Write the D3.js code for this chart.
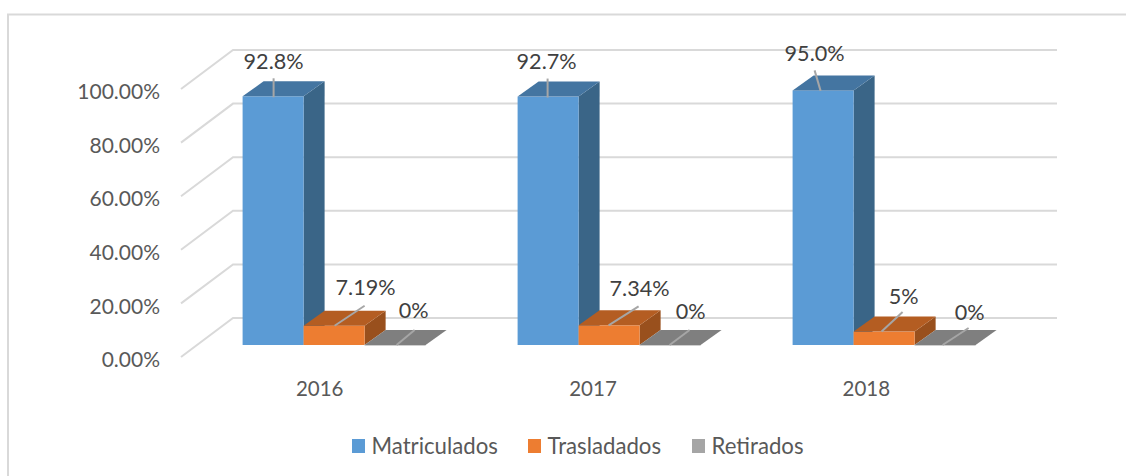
<!DOCTYPE html>
<html><head><meta charset="utf-8">
<script src="https://cdnjs.cloudflare.com/ajax/libs/d3/7.8.5/d3.min.js"></script>
<style>html,body{margin:0;padding:0;background:#fff}svg{display:block}text{font-family:Lato,"Open Sans",sans-serif}</style>
</head><body><svg id="c" width="1126" height="476"></svg>
<script>
const years = ["2016","2017","2018"];
const seriesNames = ["Matriculados","Trasladados","Retirados"];
const matriculados = [0.928,0.927,0.950];
const trasladados = [0.0719,0.0734,0.05];
const retirados = [0,0,0];
const labelsMatriculados = ["92.8%","92.7%","95.0%"];
const labelsTrasladados = ["7.19%","7.34%","5%"];
const labelsRetirados = ["0%","0%","0%"];
const yTicks = [0,0.2,0.4,0.6,0.8,1];
const values = [matriculados,trasladados,retirados];
const labels = [labelsMatriculados,labelsTrasladados,labelsRetirados];

// layout: label centre (lx,ly), leader start (sx,sy), leader end (ex,ey), relative to bar top centre
const leaderLayout = [
 [{lx:0.5,ly:-35,sx:0.5,sy:1,ex:0.5,ey:-18},{lx:-1.5,ly:-35,sx:-0.5,sy:1,ex:-0.5,ey:-18},{lx:-8.5,ly:-36.5,sx:-2.5,sy:0.5,ex:-8.5,ey:-20}],
 [{lx:31.5,ly:-38,sx:0.5,sy:0,ex:30.5,ey:-20},{lx:30.5,ly:-37,sx:-0.5,sy:0,ex:29.5,ey:-19},{lx:19.5,ly:-35,sx:-2.5,sy:0,ex:18.5,ey:-19.6}],
 [{lx:18.5,ly:-35,sx:1.5,sy:0,ex:19.5,ey:-15},{lx:20.5,ly:-34,sx:-0.5,sy:0,ex:19.5,ey:-15},{lx:24.5,ly:-33,sx:-2.5,sy:0,ex:23.5,ey:-17}]
];
const fronts = ["#5B9BD5","#ED7D31","#A5A5A5"];
const tops = ["#4475A1","#B45D22","#7F7F7F"];
const sides = ["#3A6587","#99501D","#7F7F7F"];
const legendX = [352,528,692];

const svg = d3.select("#c");
const ink="#595959", ink2="#404040", gridC="#D9D9D9";

// chart frame (open right and bottom)
svg.append("path").attr("d","M8 476V14.5H1126").attr("fill","none").attr("stroke",gridC).attr("stroke-width",2);

const yFront = d3.scaleLinear().domain([0,1]).range([357,89]);
const yBar = d3.scaleLinear().domain([0,1]).range([345,77]);
const x0 = d3.scaleBand().domain(years).range([196.6,1021.6]);
const x1 = d3.scaleBand().domain(seriesNames).range([46,229]);
const xLab = d3.scaleBand().domain(years).range([183,1003]);
const depth = {x:21,y:15}, wall={x:52,y:-39};

// gridlines on floor/wall
const grid = svg.append("g").attr("fill","none").attr("stroke",gridC).attr("stroke-width",2);
yTicks.forEach(t=>{
  const y=yFront(t);
  grid.append("path").attr("d",`M181 ${y}L${181+wall.x} ${y+wall.y}H1057`);
});

// y axis
const ax = svg.append("g").attr("transform","translate(181,3)")
  .call(d3.axisLeft(yFront).tickValues(yTicks).tickSize(0).tickPadding(21).tickFormat(d3.format(".2%")));
ax.select(".domain").remove();
ax.selectAll("text").attr("fill",ink).attr("font-size",21);

// bars
const bars = svg.append("g");
years.forEach((yr,i)=>{
  seriesNames.forEach((s,j)=>{
    const v=values[j][i], x=x0(yr)+x1(s), w=x1.bandwidth(), yt=yBar(v), yb=yBar(0);
    const g=bars.append("g");
    if(v>0){
      g.append("path").attr("fill",sides[j]).attr("d",`M${x+w} ${yt}l${depth.x} ${-depth.y}V${yb-depth.y}L${x+w} ${yb}Z`);
      g.append("rect").attr("x",x).attr("y",yt).attr("width",w).attr("height",yb-yt).attr("fill",fronts[j]);
    } else {
      g.append("path").attr("d",`M${x} ${yb}H${x+w}`).attr("stroke","#BFBFBF").attr("stroke-width",1.5);
    }
    g.append("path").attr("fill",tops[j]).attr("d",`M${x} ${yt}l${depth.x} ${-depth.y}H${x+w+depth.x}L${x+w} ${yt}Z`);
  });
});

// leaders and data labels
const ann = svg.append("g");
years.forEach((yr,i)=>{
  seriesNames.forEach((s,j)=>{
    const cx=x0(yr)+x1(s)+x1.bandwidth()/2, yt=yBar(values[j][i]), L=leaderLayout[j][i];
    ann.append("line").attr("x1",cx+L.sx).attr("y1",yt+L.sy).attr("x2",cx+L.ex).attr("y2",yt+L.ey)
      .attr("stroke","#A6A6A6").attr("stroke-width",2);
    ann.append("text").attr("x",cx+L.lx).attr("y",yt+L.ly).attr("dy",".35em").attr("text-anchor","middle")
      .attr("fill",ink2).attr("font-size",21.6).text(labels[j][i]);
  });
});

// x axis
const xa = svg.append("g").attr("transform","translate(0,382)")
  .call(d3.axisBottom(xLab).tickSize(0).tickPadding(0));
xa.select(".domain").remove();
xa.selectAll("text").attr("fill",ink).attr("font-size",20.5).attr("dy","0.7em");

// legend
const leg = svg.append("g");
seriesNames.forEach((s,j)=>{
  leg.append("rect").attr("x",legendX[j]).attr("y",439).attr("width",13).attr("height",14).attr("fill",fronts[j]);
  leg.append("text").attr("x",legendX[j]+19.5).attr("y",446).attr("dy",".35em").attr("fill",ink).attr("font-size",22.2).text(s);
});
</script></body></html>
